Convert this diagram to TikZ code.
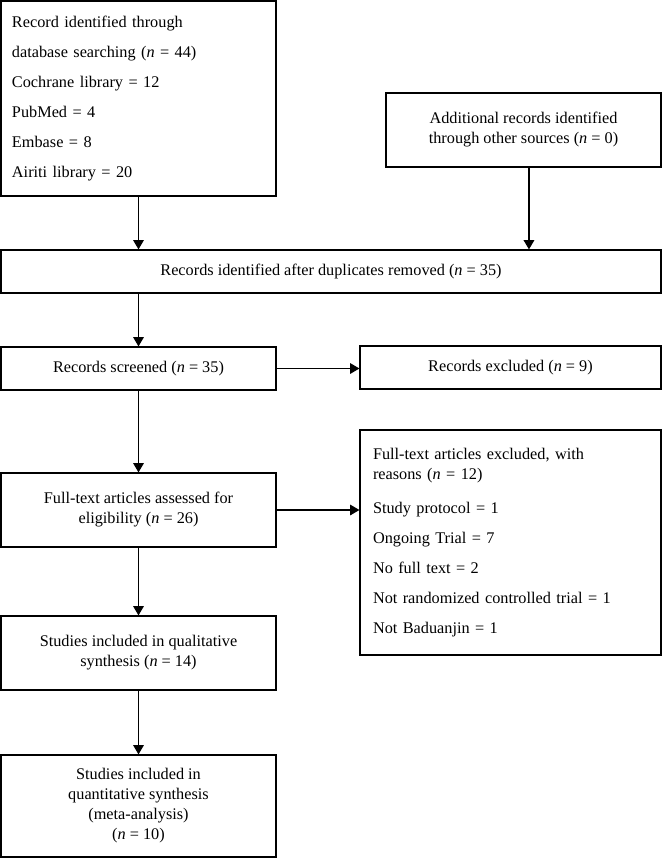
\documentclass[tikz,border=0pt]{standalone}
\usepackage{fontspec}
\setmainfont{Liberation Serif}
\usetikzlibrary{arrows.meta}

\newcommand{\flowfont}{\fontsize{12.2}{15}\selectfont}
\tikzset{
  flowbox/.style={draw, line width=0.9pt, minimum width=206.25pt, minimum height=55.5pt, inner sep=2pt, align=center, font=\flowfont},
  listbox/.style={draw, line width=0.9pt, inner xsep=#1, inner ysep=2pt, align=left, font=\flowfont},
  flowarrow/.style={line width=0.9pt, -{Triangle[length=7pt,width=8pt]}}
}

\begin{document}
\begin{tikzpicture}[x=0.75pt,y=0.75pt,yscale=-1,xscale=1]
        \useasboundingbox (0,0) rectangle (663,859);
        
        % Left column
        \node [listbox=8.25pt, text width=189.75pt, minimum height=146.25pt] (search) at (138.5,98.5) {Record identified through\\[7.5pt]database searching (\textit{n} = 44)\\[7.5pt]Cochrane library = 12\\[7.5pt]PubMed = 4\\[7.5pt]Embase = 8\\[7.5pt]Airiti library = 20};
        \node [flowbox] (other) at (523.5,130) {Additional records identified\\through other sources (\textit{n} = 0)};
        \node [flowbox, minimum width=495pt, minimum height=32.25pt] (dedup) at (331,271.5) {Records identified after duplicates removed (\textit{n} = 35)};
        \node [flowbox, minimum height=32.25pt] (screen) at (138.5,368.5) {Records screened (\textit{n} = 35)};
        \node [flowbox, minimum width=225.75pt, minimum height=32.25pt] (excluded) at (510.5,367.5) {Records excluded (\textit{n} = 9)};
        \node [flowbox] (fulltext) at (138.5,510) {Full-text articles assessed for\\eligibility (\textit{n} = 26)};
        \node [listbox=9.75pt, text width=206.25pt, minimum height=168.75pt] (reasons) at (510.5,542.5) {Full-text articles excluded, with\\reasons (\textit{n} = 12)\\[11pt]Study protocol = 1\\[7.5pt]Ongoing Trial = 7\\[7.5pt]No full text = 2\\[7.5pt]Not randomized controlled trial = 1\\[7.5pt]Not Baduanjin = 1};
        \node [flowbox] (quali) at (138.5,653) {Studies included in qualitative\\synthesis (\textit{n} = 14)};
        \node [flowbox, minimum height=76.5pt] (quanti) at (138.5,806) {Studies included in\\quantitative synthesis\\(meta-analysis)\\(\textit{n} = 10)};
        
        % Connectors
        \coordinate (otherout) at ([xshift=4.1pt]other.south);
        \draw [flowarrow] (search.south) -- (search.south |- dedup.north);
        \draw [flowarrow] (otherout) -- (otherout |- dedup.north);
        \draw [flowarrow] (dedup.south -| screen.north) -- (screen.north);
        \draw [flowarrow] (screen.east) -- (screen.east -| excluded.west);
        \draw [flowarrow] (screen.south) -- (fulltext.north);
        \draw [flowarrow] (fulltext.east) -- (fulltext.east -| reasons.west);
        \draw [flowarrow] (fulltext.south) -- (quali.north);
        \draw [flowarrow] (quali.south) -- (quanti.north);
        
\end{tikzpicture}
\end{document}
